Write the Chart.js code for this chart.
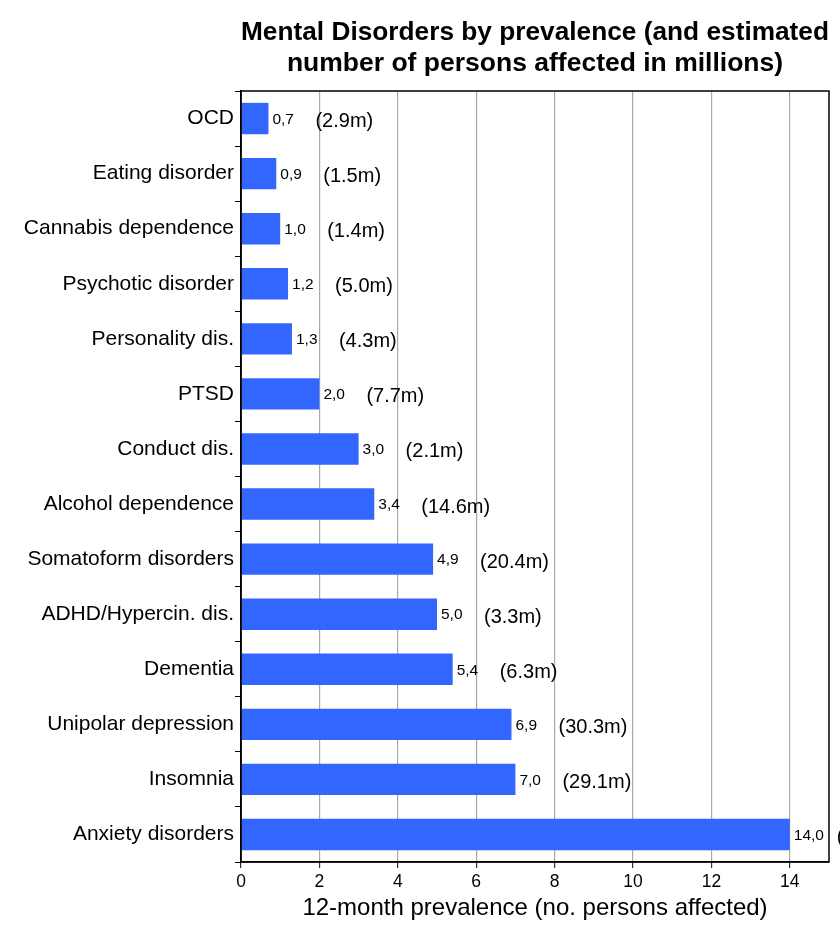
<!DOCTYPE html>
<html>
<head>
<meta charset="utf-8">
<script src="https://cdn.jsdelivr.net/npm/chart.js@4"></script>
<style>
  html, body { margin: 0; padding: 0; background: #fff; overflow: hidden; }
  #wrap { width: 840px; height: 934px; }
</style>
</head>
<body>
<div id="wrap"><canvas id="chart" width="840" height="934"></canvas></div>
<script>
const categories = [
  'OCD', 'Eating disorder', 'Cannabis dependence', 'Psychotic disorder',
  'Personality dis.', 'PTSD', 'Conduct dis.', 'Alcohol dependence',
  'Somatoform disorders', 'ADHD/Hypercin. dis.', 'Dementia',
  'Unipolar depression', 'Insomnia', 'Anxiety disorders'
];
const prevalence = [0.7, 0.9, 1.0, 1.2, 1.3, 2.0, 3.0, 3.4, 4.9, 5.0, 5.4, 6.9, 7.0, 14.0];
const millions = [2.9, 1.5, 1.4, 5.0, 4.3, 7.7, 2.1, 14.6, 20.4, 3.3, 6.3, 30.3, 29.1, 61.5];
const xTicks = [0, 2, 4, 6, 8, 10, 12, 14];

const FONT = '"Liberation Sans", Arial, Helvetica, sans-serif';
const BAR_COLOR = '#3366ff';

// value + "(x.xm)" labels next to each bar
const barLabels = {
  id: 'barLabels',
  afterDatasetsDraw(chart) {
    const ctx = chart.ctx;
    const meta = chart.getDatasetMeta(0);
    ctx.save();
    ctx.fillStyle = '#000';
    ctx.textBaseline = 'middle';
    ctx.textAlign = 'left';
    meta.data.forEach((bar, i) => {
      ctx.font = '15.5px ' + FONT;
      ctx.fillText(prevalence[i].toFixed(1).replace('.', ','), bar.x + 4, bar.y + 1);
      ctx.font = '20px ' + FONT;
      ctx.fillText('(' + millions[i].toFixed(1) + 'm)', bar.x + 47, bar.y + 3);
    });
    ctx.restore();
  }
};

// box round the plot area
const plotBox = {
  id: 'plotBox',
  afterDraw(chart) {
    const { left, right, top, bottom } = chart.chartArea;
    const ctx = chart.ctx;
    ctx.save();
    ctx.strokeStyle = '#000';
    ctx.lineWidth = 1.5;
    ctx.strokeRect(left, top, right - left, bottom - top);
    ctx.restore();
  }
};

new Chart(document.getElementById('chart'), {
  type: 'bar',
  data: {
    labels: categories,
    datasets: [{
      data: prevalence,
      backgroundColor: BAR_COLOR,
      borderWidth: 0,
      categoryPercentage: 1,
      barPercentage: 0.57
    }]
  },
  options: {
    indexAxis: 'y',
    responsive: false,
    animation: false,
    devicePixelRatio: 1,
    layout: { padding: { left: 0, right: 11, top: 0, bottom: 0 } },
    plugins: {
      legend: { display: false },
      tooltip: { enabled: false },
      title: {
        display: true,
        fullSize: false,
        text: ['Mental Disorders by prevalence (and estimated', 'number of persons affected in millions)'],
        color: '#000',
        font: { family: FONT, size: 26.5, weight: 'bold', lineHeight: 1.17 },
        padding: { top: 17, bottom: 12 }
      }
    },
    scales: {
      x: {
        type: 'linear',
        min: 0,
        max: 15,
        afterBuildTicks(scale) {
          scale.ticks = xTicks.map(v => ({ value: v }));
        },
        afterFit(scale) { scale.height = 72; },
        ticks: {
          color: '#000',
          font: { family: FONT, size: 17.5 },
          padding: 4,
          includeBounds: false
        },
        grid: {
          color: '#a8a8a8',
          lineWidth: 1.2,
          tickLength: 6,
          tickColor: '#333'
        },
        border: { display: true, color: '#000', width: 1.5 },
        title: {
          display: true,
          text: '12-month prevalence (no. persons affected)',
          color: '#000',
          font: { family: FONT, size: 24 },
          padding: { top: 0, bottom: 11 }
        }
      },
      y: {
        afterFit(scale) { scale.width = 241; },
        ticks: {
          color: '#000',
          font: { family: FONT, size: 21 },
          padding: 1
        },
        grid: {
          drawOnChartArea: false,
          tickLength: 6,
          tickColor: '#000',
          offset: true
        },
        border: { display: true, color: '#000', width: 1.5 }
      }
    }
  },
  plugins: [barLabels, plotBox]
});
</script>
</body>
</html>
